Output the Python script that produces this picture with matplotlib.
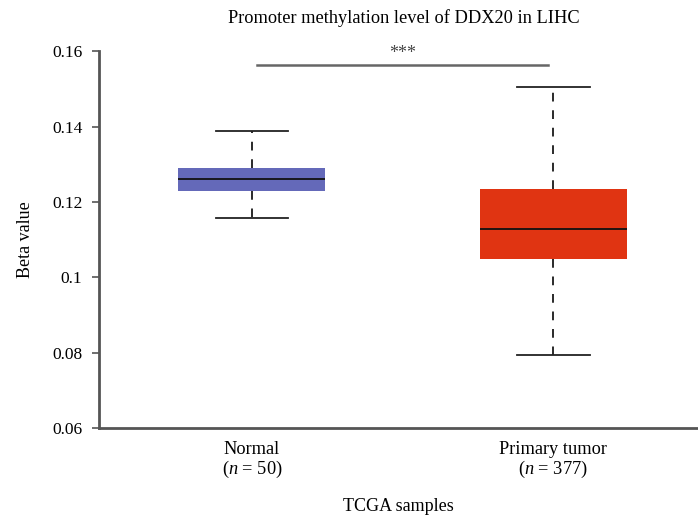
import matplotlib
matplotlib.use("Agg")
import matplotlib.pyplot as plt

plt.rcParams["font.family"] = ["Liberation Serif", "DejaVu Serif"]
plt.rcParams["mathtext.fontset"] = "custom"
plt.rcParams["mathtext.rm"] = "Liberation Serif"
plt.rcParams["mathtext.it"] = "Liberation Serif:italic"

# box statistics
groups = ["Normal", "Primary tumor"]
counts = [50, 377]
whislo = [0.1157, 0.0794]
q1 = [0.1229, 0.1048]
med = [0.1260, 0.1128]
q3 = [0.1290, 0.1234]
whishi = [0.1388, 0.1505]
colors = ["#6469b9", "#e03412"]
yticks = [0.06, 0.08, 0.1, 0.12, 0.14, 0.16]
ytick_labels = ["0.06", "0.08", "0.1", "0.12", "0.14", "0.16"]
sig_y = 0.1563
sig_text = "***"

stats = []
for i, g in enumerate(groups):
    stats.append({"label": g, "whislo": whislo[i], "q1": q1[i], "med": med[i],
                  "q3": q3[i], "whishi": whishi[i], "fliers": []})

fig = plt.figure(figsize=(6.98, 5.22), dpi=100)
ax = fig.add_axes([0.1418, 0.180, 0.857, 0.722])

bp = ax.bxp(stats, positions=[1, 2], widths=0.487, patch_artist=True,
            showfliers=False,
            boxprops=dict(linewidth=0),
            medianprops=dict(color="#111111", linewidth=1.3),
            whiskerprops=dict(color="#2a2a2a", linewidth=1.4, linestyle=(0, (4.5, 4.5))),
            capprops=dict(color="#222222", linewidth=1.3),
            capwidths=0.24)
for patch, c in zip(bp["boxes"], colors):
    patch.set_facecolor(c)
    patch.set_edgecolor(c)

ax.set_xlim(0.493, 2.477)
ax.set_ylim(yticks[0], yticks[-1])
ax.set_yticks(yticks)
ax.set_yticklabels(ytick_labels)
ax.set_xticks([1, 2])
ax.set_xticklabels([f"{g}\n($\\mathit{{n}}$ = {n})" for g, n in zip(groups, counts)],
                   linespacing=1.1)

for s in ["top", "right"]:
    ax.spines[s].set_visible(False)
for s in ["left", "bottom"]:
    ax.spines[s].set_color("#555555")
    ax.spines[s].set_linewidth(2)
ax.tick_params(axis="y", length=5, width=1.2, color="#555555", labelsize=12.5, pad=7)
ax.tick_params(axis="x", length=0, labelsize=13.2, pad=9)

ax.plot([1.017, 1.983], [sig_y, sig_y], color="#666666", linewidth=1.8,
        clip_on=False)
ax.text(1.5, sig_y + 0.0008, sig_text, ha="center", va="bottom", fontsize=13,
        color="#444444")

ax.set_ylabel("Beta value", fontsize=13, labelpad=13)
ax.set_xlabel("TCGA samples", fontsize=13, labelpad=13)
fig.text(0.5785, 0.965, "Promoter methylation level of DDX20 in LIHC",
         ha="center", va="center", fontsize=13.2)

fig.savefig("out.png", dpi=100)
